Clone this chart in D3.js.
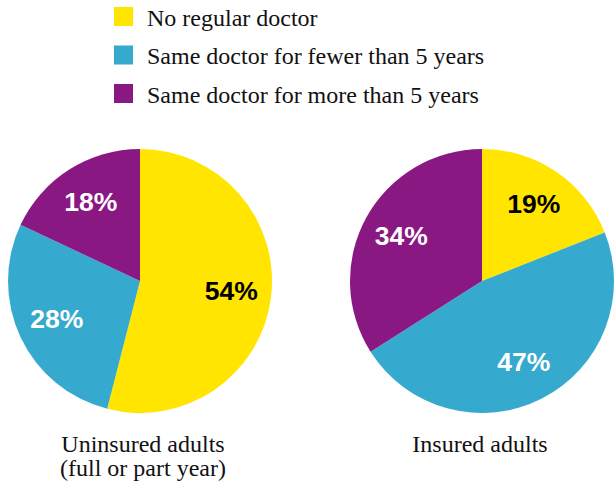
<!DOCTYPE html>
<html>
<head>
<meta charset="utf-8">
<script src="https://cdn.jsdelivr.net/npm/d3@7/dist/d3.min.js"></script>
<style>
  html, body { margin: 0; padding: 0; background: #ffffff; }
  svg { display: block; }
  .serif { font-family: "Liberation Serif", Tinos, "Times New Roman", serif; }
  .sans { font-family: "Liberation Sans", Arimo, Arial, sans-serif; }
</style>
</head>
<body>
<svg id="chart" width="615" height="485"></svg>
<script>
// ---- data ----
const categories = ["No regular doctor", "Same doctor for fewer than 5 years", "Same doctor for more than 5 years"];
const colors = ["#FFE500", "#35AACE", "#8A1883"];
const labelColors = ["#000000", "#ffffff", "#ffffff"];
const groups = ["Uninsured adults\n(full or part year)", "Insured adults"];
const uninsuredValues = [54, 28, 18];
const insuredValues = [19, 47, 34];

const svg = d3.select("#chart");

// ---- legend ----
const legend = svg.append("g").attr("transform", "translate(114,7)");
const legendStep = 38.5;
categories.forEach((c, i) => {
  const g = legend.append("g").attr("transform", `translate(0,${i * legendStep})`);
  g.append("rect").attr("width", 19).attr("height", 19).attr("fill", colors[i]);
  g.append("text")
    .attr("class", "serif")
    .attr("x", 33).attr("y", 18.5)
    .attr("font-size", 24)
    .attr("fill", "#111").text(c);
});

// ---- pies ----
const radius = 132;
const labelRadius = 92;
const pie = d3.pie().sort(null).value(d => d);
const arc = d3.arc().innerRadius(0).outerRadius(radius);
const labelArc = d3.arc().innerRadius(labelRadius).outerRadius(labelRadius);

const centers = d3.scalePoint().domain([0, 1]).range([140, 482]);
const datasets = [uninsuredValues, insuredValues];

datasets.forEach((vals, gi) => {
  const g = svg.append("g").attr("transform", `translate(${centers(gi)},281)`);
  const arcs = pie(vals);
  g.selectAll("path").data(arcs).join("path")
    .attr("d", arc)
    .attr("fill", (d, i) => colors[i]);
  g.selectAll("text.lbl").data(arcs).join("text")
    .attr("class", "lbl sans")
    .attr("transform", d => `translate(${labelArc.centroid(d)})`)
    .attr("text-anchor", "middle")
    .attr("dy", "0.3em")
    .attr("font-weight", "bold").attr("font-size", 26.5)
    .attr("fill", (d, i) => labelColors[i])
    .text(d => d.data + "%");

  const lines = groups[gi].split("\n");
  const t = svg.append("text")
    .attr("class", "serif")
    .attr("text-anchor", "middle")
    .attr("font-size", 24).attr("fill", "#111");
  lines.forEach((ln, li) => {
    t.append("tspan").attr("x", centers(gi) + (gi === 0 ? 3 : -2)).attr("y", 452 + li * 24).text(ln);
  });
});
</script>
</body>
</html>
